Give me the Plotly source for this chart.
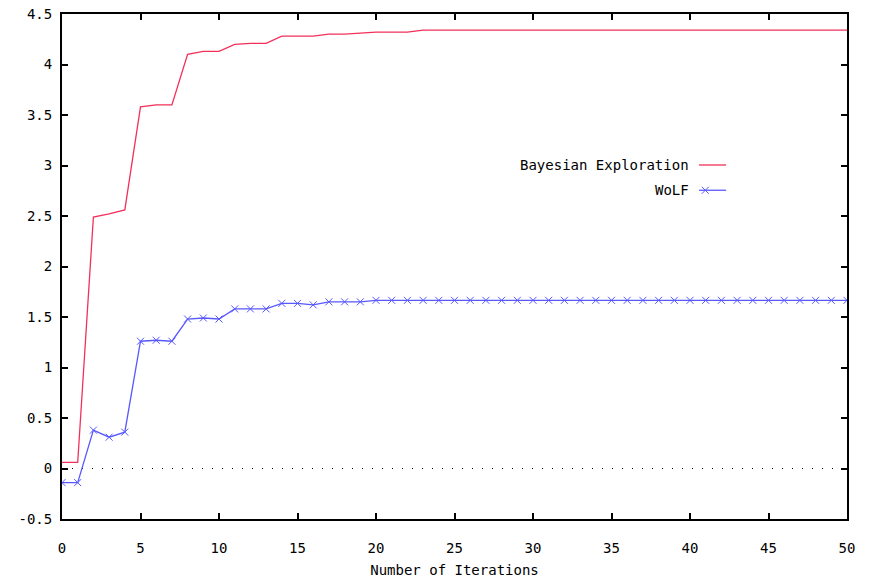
import plotly.graph_objects as go

iterations = list(range(0, 51))
bayes = [0.06, 0.06, 2.49, 2.52, 2.56, 3.58, 3.60, 3.60, 4.10, 4.13, 4.13,
         4.20, 4.21, 4.21, 4.28, 4.28, 4.28, 4.30, 4.30, 4.31, 4.32, 4.32, 4.32]
bayes += [4.34] * (51 - len(bayes))
wolf = [-0.14, -0.14, 0.38, 0.31, 0.36, 1.26, 1.27, 1.26, 1.48, 1.49, 1.48,
        1.58, 1.58, 1.58, 1.635, 1.635, 1.62, 1.65, 1.65, 1.65]
wolf += [1.665] * (51 - len(wolf))

x_ticks = list(range(0, 51, 5))
y_ticks = [-0.5, 0, 0.5, 1, 1.5, 2, 2.5, 3, 3.5, 4, 4.5]
y_tick_text = ["-0.5", "0", "0.5", "1", "1.5", "2", "2.5", "3", "3.5", "4", "4.5"]

RED = "#f2305a"
BLUE = "#5858ff"
FONT = "DejaVu Sans Mono"

fig = go.Figure()
fig.add_trace(go.Scatter(x=iterations, y=bayes, mode="lines",
                         line=dict(color=RED, width=1.3), name="Bayesian Exploration",
                         showlegend=False))
fig.add_trace(go.Scatter(x=iterations, y=wolf, mode="lines+markers",
                         line=dict(color=BLUE, width=1.3),
                         marker=dict(symbol="x-thin-open", size=7, color=BLUE,
                                     line=dict(color=BLUE, width=1)),
                         name="WoLF", showlegend=False))

# legend samples on an overlay axis in [0,1] coordinates
leg_x = [0.8115, 0.846]
fig.add_trace(go.Scatter(x=leg_x, y=[0.701, 0.701], xaxis="x2", yaxis="y2",
                         mode="lines", line=dict(color=RED, width=1.3),
                         showlegend=False, hoverinfo="skip"))
fig.add_trace(go.Scatter(x=leg_x, y=[0.651, 0.651], xaxis="x2", yaxis="y2",
                         mode="lines", line=dict(color=BLUE, width=1.3),
                         showlegend=False, hoverinfo="skip"))
fig.add_trace(go.Scatter(x=[0.8195], y=[0.651], xaxis="x2", yaxis="y2",
                         mode="markers",
                         marker=dict(symbol="x-thin-open", size=7, color=BLUE,
                                     line=dict(color=BLUE, width=1)),
                         showlegend=False, hoverinfo="skip"))

fig.add_annotation(x=0.801, y=0.701, xref="paper", yref="paper", text="Bayesian Exploration",
                   showarrow=False, xanchor="right", yanchor="middle",
                   font=dict(family=FONT, size=14, color="black"))
fig.add_annotation(x=0.801, y=0.651, xref="paper", yref="paper", text="WoLF",
                   showarrow=False, xanchor="right", yanchor="middle",
                   font=dict(family=FONT, size=14, color="black"))

# dotted zero axis
fig.add_shape(type="line", xref="x domain", yref="y", x0=0, x1=1, y0=0, y1=0,
              line=dict(color="black", width=1.2, dash="1px,9px"), layer="below")

axis_common = dict(showline=True, linecolor="black", linewidth=2, mirror="ticks",
                   ticks="inside", ticklen=6, tickwidth=2, tickcolor="black",
                   showgrid=False, zeroline=False, automargin=False,
                   tickfont=dict(family=FONT, size=14, color="black"))

fig.update_layout(
    width=869, height=580,
    margin=dict(l=62, r=22, t=14, b=61),
    paper_bgcolor="white", plot_bgcolor="white",
    xaxis=dict(range=[0, 50], tickvals=x_ticks, ticklabelstandoff=15,
               title=dict(text="Number of Iterations", standoff=10,
                          font=dict(family=FONT, size=14, color="black")),
               **axis_common),
    yaxis=dict(range=[-0.5, 4.5], tickvals=y_ticks, ticktext=y_tick_text,
               ticklabelstandoff=5, **axis_common),
    xaxis2=dict(range=[0, 1], overlaying="x", visible=False, fixedrange=True),
    yaxis2=dict(range=[0, 1], overlaying="y", visible=False, fixedrange=True),
    showlegend=False,
)

fig.write_html("out.html")
